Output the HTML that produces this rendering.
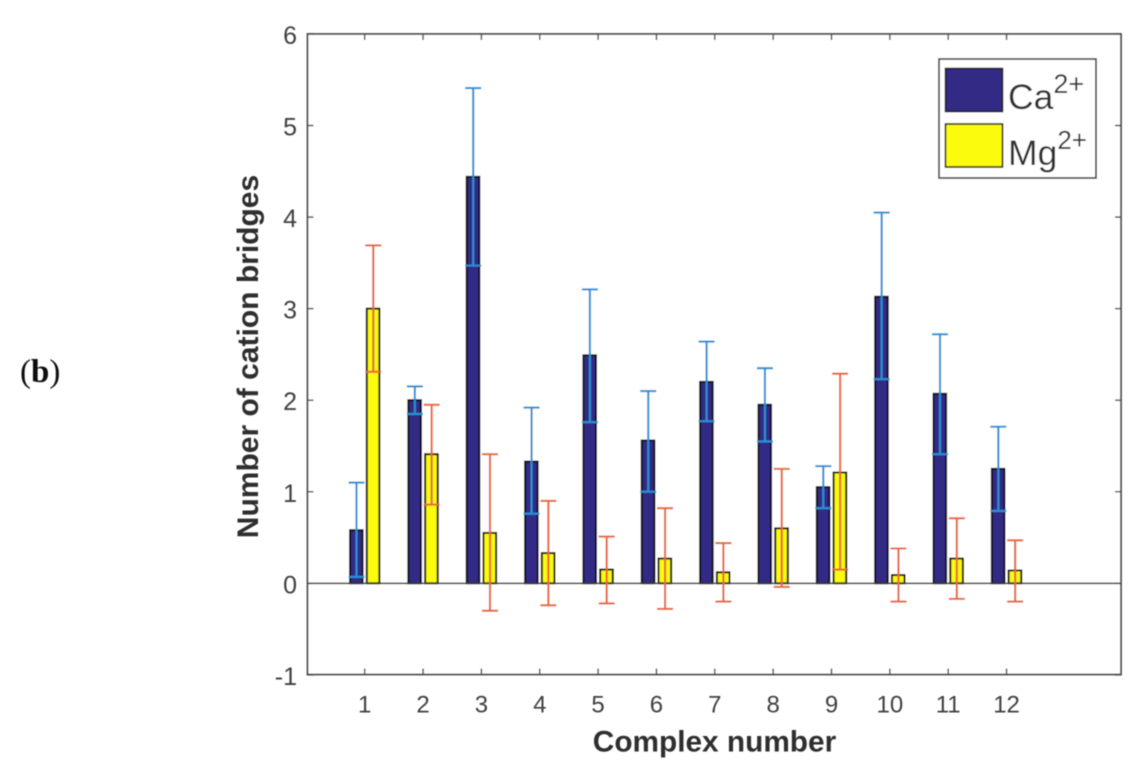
<!DOCTYPE html>
<html>
<head>
<meta charset="utf-8">
<style>
html,body{margin:0;padding:0;background:#fff;width:1146px;height:771px;overflow:hidden}
svg{display:block}
text{font-family:"Liberation Sans",sans-serif}
</style>
</head>
<body>
<svg id="chart" width="1146" height="771" viewBox="0 0 1146 771" xmlns="http://www.w3.org/2000/svg">
<defs><filter id="soft" x="-5%" y="-5%" width="110%" height="110%"><feGaussianBlur stdDeviation="0.55"/></filter></defs>
<rect width="1146" height="771" fill="#fff"/>
<g id="root" filter="url(#soft)"></g>
</svg>
<script>
const categories = ['1','2','3','4','5','6','7','8','9','10','11','12'];
const yTickLabels = [-1,0,1,2,3,4,5,6];
const caValues = [0.58,2.0,4.44,1.33,2.49,1.56,2.2,1.95,1.05,3.13,2.07,1.25];
const mgValues = [3.0,1.41,0.55,0.33,0.15,0.27,0.12,0.6,1.21,0.09,0.27,0.14];
const caUpper = [1.1,2.15,5.41,1.92,3.21,2.1,2.64,2.35,1.28,4.05,2.72,1.71];
const caLower = [0.07,1.85,3.47,0.76,1.76,1.0,1.77,1.55,0.82,2.23,1.41,0.79];
const mgUpper = [3.69,1.95,1.41,0.9,0.51,0.82,0.44,1.25,2.29,0.38,0.71,0.47];
const mgLower = [2.31,0.86,-0.3,-0.24,-0.22,-0.28,-0.2,-0.04,0.15,-0.2,-0.17,-0.2];

const NS = 'http://www.w3.org/2000/svg';
const root = document.getElementById('root');
const L = 307.5, R = 1121, T = 34, B = 674.5;
const xScale = i => 364.7 + i * 58.35;
const yScale = v => 583.3 - v * 91.55;

function make(tag, attrs, text) {
  const el = document.createElementNS(NS, tag);
  for (const k in attrs) el.setAttribute(k, attrs[k]);
  if (text !== undefined) el.textContent = text;
  root.appendChild(el);
  return el;
}
const AXIS = '#4d4d4d', TXT = '#404040';

/* plot frame */
const frame = make('rect', {x:L, y:T, width:R-L, height:B-T, fill:'#fff', stroke:AXIS, 'stroke-width':1.8});



/* y ticks */
yTickLabels.forEach(v => {
  const y = yScale(v);
  const t1 = make('line', {x1:L, x2:L+6, y1:y, y2:y, stroke:AXIS, 'stroke-width':1.5});
  
  
  const t2 = make('line', {x1:R-6, x2:R, y1:y, y2:y, stroke:AXIS, 'stroke-width':1.5});
  
  
  const lab = make('text', {x:L-10.5, y:y+10, 'text-anchor':'end', 'font-size':25, fill:TXT}, String(v));
  
  
});

/* x ticks */
categories.forEach((c, i) => {
  const x = xScale(i);
  const t1 = make('line', {x1:x, x2:x, y1:B-6, y2:B, stroke:AXIS, 'stroke-width':1.5});
  
  
  const t2 = make('line', {x1:x, x2:x, y1:T, y2:T+6, stroke:AXIS, 'stroke-width':1.5});
  
  
  const lab = make('text', {x:x, y:712.7, 'text-anchor':'middle', 'font-size':24, fill:TXT}, c);
  
  
});

/* bars */
const BW = 12.6;
function bar(i, v, off, fill, name) {
  const xc = xScale(i) + off;
  const r = make('rect', {x:xc-BW/2, y:yScale(v), width:BW, height:yScale(0)-yScale(v), fill:fill, stroke:'#111111', 'stroke-width':2});
  
  
}
function err(i, hi, lo, off, color, name) {
  const xc = xScale(i) + off;
  const g = document.createElementNS(NS, 'g');
  
  
  g.setAttribute('stroke', color);
  g.setAttribute('stroke-width', 2.1);
  [[xc,xc,yScale(hi),yScale(lo)],[xc-8,xc+8,yScale(hi),yScale(hi)],[xc-8,xc+8,yScale(lo),yScale(lo)]].forEach(s => {
    const l = document.createElementNS(NS, 'line');
    l.setAttribute('x1', s[0]); l.setAttribute('x2', s[1]);
    l.setAttribute('y1', s[2]); l.setAttribute('y2', s[3]);
    g.appendChild(l);
  });
  root.appendChild(g);
}
categories.forEach((c, i) => {
  bar(i, caValues[i], -8.4, '#312a85', 'bar-ca-' + c);
  bar(i, mgValues[i], 8.4, '#fbfb0a', 'bar-mg-' + c);
});
const zero = make('line', {x1:L, x2:R, y1:yScale(0), y2:yScale(0), stroke:'#3a3a3a', 'stroke-width':1.6});


categories.forEach((c, i) => {
  err(i, caUpper[i], caLower[i], -8.2, '#2a90d4', 'error-bar-ca-' + c);
  err(i, mgUpper[i], mgLower[i], 8.6, '#e8663a', 'error-bar-mg-' + c);
});

/* axis titles */
const xt = make('text', {x:714.5, y:751.5, 'text-anchor':'middle', 'font-size':29.8, 'font-weight':'bold', fill:'#2e2e2e'}, 'Complex number');


const yt = make('text', {x:0, y:0, transform:'translate(258,356.5) rotate(-90)', 'text-anchor':'middle', 'font-size':30, 'font-weight':'bold', fill:'#2e2e2e'}, 'Number of cation bridges');



/* panel label */
const pl = make('text', {x:20, y:382, 'font-size':33, fill:'#111', style:'font-family:"Liberation Serif",serif'});


pl.innerHTML = '(<tspan font-weight="bold">b</tspan>)';

/* legend */
const lb = make('rect', {x:939, y:59, width:157, height:119, fill:'#fff', stroke:AXIS, 'stroke-width':1.8});


const s1 = make('rect', {x:945.5, y:68.5, width:57, height:43, fill:'#312a85', stroke:'#1c1c1c', 'stroke-width':1.6});


const s2 = make('rect', {x:945.5, y:124, width:57, height:43, fill:'#fbfb0a', stroke:'#1c1c1c', 'stroke-width':1.6});


const t1 = make('text', {x:1008, y:109, 'font-size':35.5, fill:'#333'});


t1.innerHTML = 'Ca<tspan font-size="27" dy="-16">2+</tspan>';
const t2 = make('text', {x:1008, y:165, 'font-size':35.5, fill:'#333'});


t2.innerHTML = 'Mg<tspan font-size="26" dy="-16">2+</tspan>';
</script>
</body>
</html>
